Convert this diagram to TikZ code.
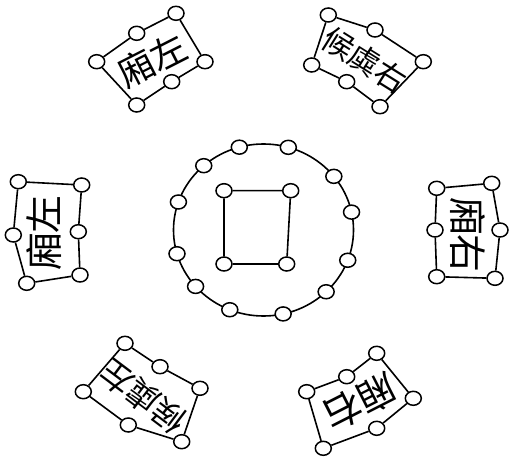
\documentclass[tikz,border=0pt]{standalone}
\usepackage{fontspec}
\newfontfamily\cjk{Noto Sans CJK TC}
\usetikzlibrary{shapes.geometric,calc}
\tikzset{
  bead/.style={ellipse,draw=black,fill=white,line width=1.5bp,minimum width=16bp,minimum height=14bp,inner sep=0pt},
  frame/.style={draw=black,line width=1.6bp,line join=round},
  label/.style={font=\cjk\fontsize{#1}{#1}\selectfont,inner sep=0pt},
}
\begin{document}
\begin{tikzpicture}[x=1bp,y=-1bp]
\path[use as bounding box] (0,0) rectangle (512,460);

% ---------- central ring ----------
\coordinate (ctr) at (263.5,230);
\draw[frame] (ctr) ellipse [x radius=90, y radius=86];
\foreach \a [count=\i] in {-105.6,-74,-38.6,-12,20.6,45.9,77.4,112,139,164,-161,-131.6}{
  \node[bead] (r\i) at ($(ctr)+({90*cos(\a)},{86*sin(\a)})$) {};
}

% ---------- inner square ----------
\node[bead] (s1) at (224,190.7) {};
\node[bead] (s2) at (290.7,190.7) {};
\node[bead] (s3) at (286.7,264) {};
\node[bead] (s4) at (224,264) {};
\draw[frame] (s1) -- (s2) -- (s3) -- (s4) -- (s1);

% ---------- top-left box ----------
\node[bead] (a1) at (96.7,61.7) {};
\node[bead] (a2) at (136.7,33.3) {};
\node[bead] (a3) at (176,13.3) {};
\node[bead] (a4) at (205,61.7) {};
\node[bead] (a5) at (171.7,81.7) {};
\node[bead] (a6) at (136.7,105) {};
\draw[frame] (a1)--(a2)--(a3)--(a4)--(a5)--(a6)--(a1);
\node[label=36,rotate=27] (ta) at (152,60) {廂左};

% ---------- top-right box ----------
\node[bead] (b1) at (328.3,15) {};
\node[bead] (b2) at (375,30) {};
\node[bead] (b3) at (423.3,61.7) {};
\node[bead] (b4) at (380,106.7) {};
\node[bead] (b5) at (346.7,81.7) {};
\node[bead] (b6) at (311.7,65) {};
\draw[frame] (b1)--(b2)--(b3)--(b4)--(b5)--(b6)--(b1);
\node[label=31,rotate=-32] (tb) at (365,60) {候虡右};

% ---------- left box ----------
\node[bead] (c1) at (18.3,181.7) {};
\node[bead] (c2) at (81.7,185) {};
\node[bead] (c3) at (78.3,231.7) {};
\node[bead] (c4) at (80,275) {};
\node[bead] (c5) at (26.7,283.3) {};
\node[bead] (c6) at (13.3,235) {};
\draw[frame] (c1)--(c2)--(c3)--(c4)--(c5)--(c6)--(c1);
\node[label=38,rotate=90] (tc) at (44,233) {廂左};

% ---------- right box ----------
\node[bead] (d1) at (436.7,188.3) {};
\node[bead] (d2) at (491.7,183.3) {};
\node[bead] (d3) at (500,230) {};
\node[bead] (d4) at (495,278.3) {};
\node[bead] (d5) at (436.7,276.7) {};
\node[bead] (d6) at (435,230) {};
\draw[frame] (d1)--(d2)--(d3)--(d4)--(d5)--(d6)--(d1);
\node[label=38,rotate=-90] (td) at (468,235) {廂右};

% ---------- bottom-left box ----------
\node[bead] (e1) at (125,343.3) {};
\node[bead] (e2) at (160,366.7) {};
\node[bead] (e3) at (200,388.3) {};
\node[bead] (e4) at (181.7,441.7) {};
\node[bead] (e5) at (128.3,425) {};
\node[bead] (e6) at (83.3,391.7) {};
\draw[frame] (e1)--(e2)--(e3)--(e4)--(e5)--(e6)--(e1);
\node[label=33,rotate=143] (te) at (143,397) {候虡左};

% ---------- bottom-right box ----------
\node[bead] (f1) at (376.7,353.3) {};
\node[bead] (f2) at (413.3,398.3) {};
\node[bead] (f3) at (376.7,428.3) {};
\node[bead] (f4) at (323.3,448.3) {};
\node[bead] (f5) at (306.7,391.7) {};
\node[bead] (f6) at (346.7,376.7) {};
\draw[frame] (f1)--(f2)--(f3)--(f4)--(f5)--(f6)--(f1);
\node[label=38,rotate=207] (tf) at (360,402) {廂右};
\end{tikzpicture}
\end{document}
